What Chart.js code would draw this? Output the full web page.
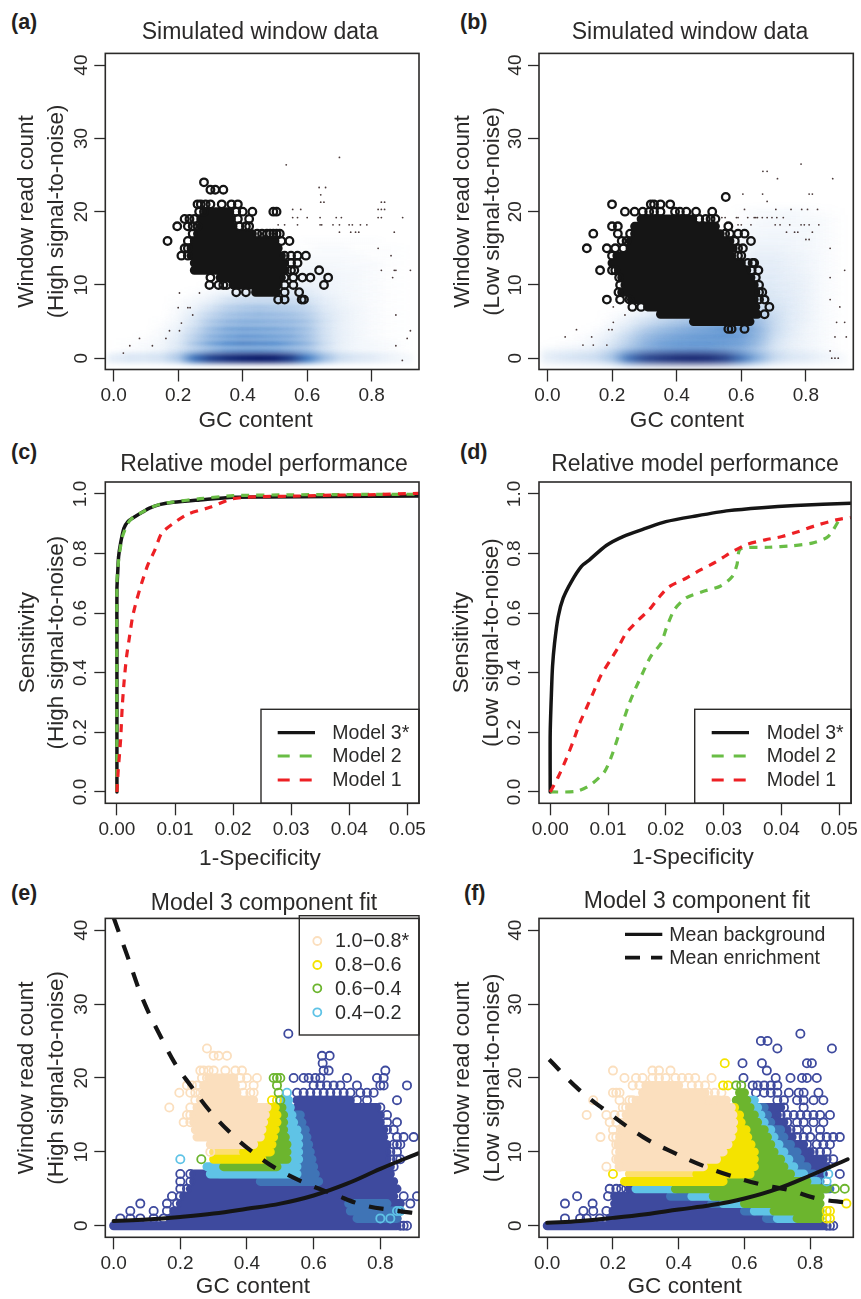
<!DOCTYPE html>
<html>
<head>
<meta charset="utf-8">
<title>Model fit panels</title>
<script src="https://cdn.jsdelivr.net/npm/chart.js@4/dist/chart.umd.min.js"></script>
<style>
  html, body { margin: 0; padding: 0; background: #fff; }
  #page { position: relative; width: 861px; height: 1299px; overflow: hidden; font-family: "Liberation Sans", Arial, sans-serif; color: #2b2a29; }
  canvas { position: absolute; }
  .tag { position: absolute; font-weight: bold; font-size: 21.5px; line-height: 24px; color: #231f20; }
  .head { position: absolute; font-size: 23px; line-height: 28px; white-space: nowrap; transform: translateX(-50%); }
  .xname { position: absolute; font-size: 22.6px; line-height: 28px; white-space: nowrap; transform: translateX(-50%); }
</style>
</head>
<body>
<div id="page">
  <canvas id="panelA" width="430" height="400" style="left:0;top:40px"></canvas>
  <canvas id="panelB" width="431" height="400" style="left:430px;top:40px"></canvas>
  <canvas id="panelC" width="430" height="400" style="left:0;top:470px"></canvas>
  <canvas id="panelD" width="431" height="400" style="left:430px;top:470px"></canvas>
  <canvas id="panelE" width="430" height="394" style="left:0;top:905px"></canvas>
  <canvas id="panelF" width="431" height="394" style="left:430px;top:905px"></canvas>
  <div class="tag" style="left:11px;top:10px">(a)</div>
  <div class="tag" style="left:460px;top:10px">(b)</div>
  <div class="tag" style="left:11px;top:440px">(c)</div>
  <div class="tag" style="left:460px;top:440px">(d)</div>
  <div class="tag" style="left:11px;top:881px">(e)</div>
  <div class="tag" style="left:464px;top:881px">(f)</div>
  <div class="head" style="left:260px;top:17px">Simulated window data</div>
  <div class="head" style="left:690px;top:17px">Simulated window data</div>
  <div class="head" style="left:264px;top:449px">Relative model performance</div>
  <div class="head" style="left:695px;top:449px">Relative model performance</div>
  <div class="head" style="left:264px;top:888px">Model 3 component fit</div>
  <div class="head" style="left:697px;top:886px">Model 3 component fit</div>
  <div class="xname" style="left:255.7px;top:406px">GC content</div>
  <div class="xname" style="left:687px;top:406px">GC content</div>
  <div class="xname" style="left:260px;top:844px">1-Specificity</div>
  <div class="xname" style="left:693px;top:843px">1-Specificity</div>
  <div class="xname" style="left:253px;top:1272px">GC content</div>
  <div class="xname" style="left:684.7px;top:1272px">GC content</div>
</div>
<script>
// tick labels
const gcTicks = [0, 0.2, 0.4, 0.6, 0.8];
const countTicks = [0, 10, 20, 30, 40];
const specificityTicks = [0, 0.01, 0.02, 0.03, 0.04, 0.05];
const sensitivityTicks = [0, 0.2, 0.4, 0.6, 0.8, 1];

// legend names
const modelNames = ['Model 3*', 'Model 2', 'Model 1'];
const probabilityBins = ['1.0\u22120.8*', '0.8\u22120.6', '0.6\u22120.4', '0.4\u22120.2'];
const meanNames = ['Mean background', 'Mean enrichment'];

// smoothed density behind panels a and b, one row per read count
const densityGc = [-0.02, 0.05, 0.1, 0.15, 0.2, 0.25, 0.3, 0.35, 0.4, 0.45, 0.5, 0.55, 0.6, 0.65, 0.7, 0.75, 0.8, 0.85, 0.93];
const densityA = [
  [.06,.10,.10,.12,.22,.60,.82,.92,.98,1,.98,.85,.55,.28,.14,.10,.08,.05,.02],
  [0,.02,.03,.05,.12,.22,.32,.42,.45,.45,.42,.35,.28,.14,.07,.04,.03,.02,0],
  [0,.01,.02,.04,.10,.25,.40,.50,.55,.52,.50,.42,.32,.16,.07,.04,.03,.02,0],
  [0,0,.01,.03,.08,.20,.34,.42,.46,.45,.42,.38,.28,.14,.07,.04,.02,.01,0],
  [0,0,0,.02,.06,.16,.30,.40,.43,.42,.40,.36,.28,.14,.07,.04,.02,.01,0],
  [0,0,0,.01,.04,.12,.24,.32,.36,.36,.34,.32,.26,.14,.07,.04,.02,.01,0],
  [0,0,0,0,.03,.09,.18,.26,.30,.32,.30,.28,.22,.12,.07,.04,.02,.01,0],
  [0,0,0,0,.02,.05,.12,.20,.24,.26,.24,.22,.18,.10,.06,.04,.02,.01,0],
  [0,0,0,0,.01,.03,.06,.12,.15,.16,.16,.16,.13,.08,.05,.03,.02,.01,0],
  [0,0,0,0,0,.01,.03,.05,.07,.08,.09,.10,.09,.06,.04,.03,.02,.01,0],
  [0,0,0,0,0,0,.01,.02,.03,.04,.05,.06,.06,.05,.04,.03,.02,.01,0],
  [0,0,0,0,0,0,0,.01,.02,.02,.03,.04,.05,.05,.04,.03,.02,.01,0],
  [0,0,0,0,0,0,0,0,.01,.02,.02,.03,.04,.04,.03,.03,.02,.01,0],
  [0,0,0,0,0,0,0,0,0,.01,.02,.02,.03,.03,.03,.02,.02,.01,0],
  [0,0,0,0,0,0,0,0,0,0,.01,.01,.02,.02,.02,.02,.01,.01,0],
  [0,0,0,0,0,0,0,0,0,0,0,.01,.01,.02,.02,.01,.01,.01,0],
  [0,0,0,0,0,0,0,0,0,0,0,0,.01,.01,.01,.01,.01,0,0]
];
const densityB = [
  [.06,.10,.12,.14,.24,.62,.84,.92,.98,1,.98,.88,.62,.34,.16,.10,.08,.05,.02],
  [.02,.04,.05,.07,.14,.26,.36,.42,.45,.46,.45,.40,.32,.20,.10,.06,.04,.02,0],
  [0,.01,.02,.04,.10,.20,.34,.44,.48,.50,.50,.48,.44,.30,.12,.06,.04,.02,0],
  [0,0,.01,.03,.07,.16,.28,.36,.42,.46,.48,.50,.46,.32,.14,.07,.04,.02,0],
  [0,0,0,.01,.04,.10,.20,.28,.34,.40,.44,.50,.46,.34,.16,.08,.04,.02,0],
  [0,0,0,0,.02,.06,.12,.18,.24,.28,.32,.36,.36,.30,.16,.08,.05,.02,0],
  [0,0,0,0,.01,.03,.06,.10,.14,.18,.22,.24,.24,.20,.14,.08,.05,.02,0],
  [0,0,0,0,0,.01,.03,.05,.08,.10,.12,.14,.16,.14,.12,.08,.05,.02,0],
  [0,0,0,0,0,0,.01,.02,.04,.06,.08,.10,.12,.12,.10,.08,.05,.02,0],
  [0,0,0,0,0,0,0,.01,.02,.03,.05,.07,.10,.10,.09,.07,.05,.02,0],
  [0,0,0,0,0,0,0,0,.01,.02,.03,.05,.08,.09,.08,.07,.05,.02,0],
  [0,0,0,0,0,0,0,0,0,.01,.02,.04,.07,.08,.08,.06,.05,.02,0],
  [0,0,0,0,0,0,0,0,0,0,.01,.03,.06,.07,.07,.06,.04,.02,0],
  [0,0,0,0,0,0,0,0,0,0,.01,.02,.05,.07,.07,.05,.04,.02,0],
  [0,0,0,0,0,0,0,0,0,0,0,.02,.04,.06,.06,.05,.04,.02,0],
  [0,0,0,0,0,0,0,0,0,0,0,.01,.03,.05,.05,.04,.03,.02,0],
  [0,0,0,0,0,0,0,0,0,0,0,.01,.03,.04,.04,.04,.03,.02,0],
  [0,0,0,0,0,0,0,0,0,0,0,0,.02,.03,.04,.03,.03,.02,0],
  [0,0,0,0,0,0,0,0,0,0,0,0,.02,.03,.03,.03,.03,.02,0],
  [0,0,0,0,0,0,0,0,0,0,0,0,.01,.02,.03,.03,.02,.02,0],
  [0,0,0,0,0,0,0,0,0,0,0,0,.01,.02,.02,.03,.02,.01,0]
];

// [count, gc from, gc to, ...] solid runs of overplotted windows
const packedA = [[9,.44,.505],[10,.37,.51],[11,.33,.52],[12,.25,.53],[13,.25,.53],[14,.24,.52],[15,.24,.51],[16,.25,.50],[17,.26,.43],[18,.27,.37],[19,.27,.365],[20,.285,.36]];
const packedB = [[5,.452,.627],[6,.35,.65],[7,.31,.645],[8,.26,.64],[9,.23,.645],[10,.24,.64],[11,.23,.63],[12,.22,.617],[13,.2,.60],[14,.215,.57],[15,.256,.575],[16,.256,.565],[17,.27,.535],[18,.27,.52],[19,.29,.45]];
// [count, gc, gc, ...] windows still visible one by one
const openA = [[8,.51,.53,.583,.59],[9,.38,.41,.53,.575],[10,.297,.325,.34,.35,.53,.557,.652],[11,.30,.53,.557,.585,.61,.665],[12,.55,.56,.637],[13,.55,.57],[14,.21,.23,.53,.55,.57,.596],[15,.22,.23],[16,.167,.23,.52,.545],[17,.245,.445,.46,.475,.485,.495,.505,.515],[18,.197,.23,.245,.26,.39,.41,.42],[19,.22,.235,.25,.385,.42],[20,.265,.28,.38,.40,.43,.495,.505],[21,.26,.27,.285,.30,.335,.365,.385],[23,.30,.315,.34],[24,.28]];
const openB = [[4,.56,.57,.61],[6,.672],[7,.263,.29,.687],[8,.184,.225,.254,.655,.672],[9,.22,.655,.665],[10,.225,.655],[11,.222,.645],[12,.163,.2,.21,.632,.653],[13,.62,.635,.64],[14,.2,.59,.60],[15,.122,.184,.21,.235,.605,.59],[16,.23,.245,.63,.58],[17,.142,.218,.256,.55,.565,.59,.61],[18,.2,.218,.56],[19,.47,.49,.505,.52],[20,.24,.27,.295,.315,.33,.35,.395,.41,.43,.46,.51],[21,.2,.32,.33,.35,.38],[22,.552]];
// [count, gc, gc, ...] tiny single dots
const dotsA = [[-.3,.895],[.7,.03],[1.7,.05,.12,.875],[2.7,.08,.162,.91],[3.75,.173,.204,.92],[4.8,.21],[5.9,.245,.875],[6.9,.2,.23,.237],[8.9,.204,.266],[11,.865],[12,.83,.87,.875,.92],[14,.86],[15,.82],[17.2,.70,.735,.75,.76,.87],[18.2,.51,.53,.57,.64,.645,.68,.70,.73,.74,.765,.785],[19.2,.555,.57,.60,.64,.69,.706,.82,.83,.896],[20.3,.555,.58,.82,.83,.84],[21.3,.642,.652,.83,.84],[22.3,.642],[23.3,.637,.657],[26.4,.535],[27.4,.70]];
const dotsB = [[0,.88,.89,.90],[1,.875],[1.8,.11,.142,.184],[2.9,.055,.137,.89,.925],[3.9,.09,.19,.2],[4.9,.204,.895,.92],[5.9,.24],[7,.204,.905],[8,.875],[11,.875],[12,.92],[15,.875],[16.2,.80,.81],[17.2,.74,.765,.775,.82],[18.2,.59,.60,.63,.705,.72,.75,.785,.795,.81,.84],[19.2,.54,.55,.585,.59,.62,.64,.645,.65,.665,.68,.695,.71,.73],[20.3,.61,.707,.754,.787,.805,.836],[21.4,.68],[22.4,.605,.666,.81,.82],[24.5,.712,.883],[25.5,.667,.68],[26.5,.785]];

// ROC curves, panel c, [1-specificity, sensitivity]
const rocC3 = [[0,0],[0,.5],[0,.68],[.00012,.73],[.00029,.79],[.00063,.834],[.0012,.885],[.00195,.909],[.0028,.92],[.0045,.94],[.0056,.952],[.0075,.965],[.0097,.972],[.0143,.98],[.02,.989],[.0258,.99],[.0373,.991],[.052,.993]];
const rocC2 = [[0,0],[0,.7],[.0003,.78],[.0006,.82],[.001,.86],[.002,.905],[.003,.925],[.0045,.94],[.0056,.952],[.0075,.966],[.0097,.973],[.0143,.984],[.02,.994],[.03,.997],[.04,.998],[.052,.999]];
const rocC1 = [[0,0],[.00023,.074],[.00063,.174],[.00092,.287],[.00126,.376],[.00166,.454],[.00212,.515],[.0027,.588],[.0034,.644],[.00425,.70],[.0053,.761],[.00654,.812],[.0077,.868],[.0097,.901],[.0123,.933],[.016,.955],[.0195,.982],[.0218,.988],[.0252,.991],[.0315,.993],[.0373,.996],[.043,.997],[.052,1.002]];
// ROC curves, panel d
const rocD3 = [[0,0],[0,.197],[.00023,.342],[.0004,.421],[.00075,.499],[.00138,.588],[.00224,.65],[.00367,.706],[.0054,.757],[.0068,.779],[.0097,.827],[.0126,.857],[.0166,.885],[.02,.907],[.0252,.926],[.0309,.944],[.0366,.954],[.0424,.961],[.052,.969]];
const rocD2 = [[0,0],[.0045,.002],[.0069,.023],[.0094,.068],[.0108,.13],[.0123,.219],[.0137,.298],[.0148,.349],[.016,.399],[.0174,.455],[.0192,.5],[.0201,.55],[.0215,.612],[.0235,.651],[.0263,.672],[.0295,.691],[.0315,.723],[.0323,.762],[.0329,.815],[.0378,.821],[.0418,.826],[.0453,.835],[.0481,.857],[.05,.913]];
const rocD1 = [[0,0],[.0014,.051],[.00281,.113],[.00396,.169],[.0051,.231],[.00625,.281],[.0074,.331],[.00883,.393],[.01026,.438],[.0117,.483],[.0131,.532],[.0151,.574],[.0171,.611],[.0189,.655],[.0206,.689],[.0235,.717],[.026,.745],[.0286,.771],[.0309,.799],[.0338,.829],[.0372,.846],[.0401,.857],[.043,.874],[.0458,.893],[.0495,.913],[.052,.921]];

// mean curves, [gc, count]
const backgroundE = [[0,.63],[.1,.85],[.2,1.2],[.3,1.65],[.4,2.3],[.5,3],[.6,4.1],[.7,5.7],[.8,7.7],[.913,9.8]];
const enrichmentE = [[0,41.7],[.039,36.8],[.089,30.5],[.149,24.9],[.189,21.6],[.229,19.1],[.289,15.5],[.359,12.2],[.419,9.9],[.489,7.7],[.589,5.5],[.659,4.3],[.749,2.8],[.839,2.1],[.913,1.66]];
const backgroundF = [[0,.4],[.1,.65],[.2,1.07],[.3,1.57],[.4,2.2],[.5,2.8],[.6,3.7],[.7,5],[.8,6.8],[.914,9]];
const enrichmentF = [[.006,22.5],[.09,18.7],[.165,16],[.292,12],[.394,9.7],[.475,8.1],[.556,6.8],[.658,5.5],[.739,4.8],[.82,3.7],[.916,3.1]];

// panel e, packed runs by posterior class
const navyE = [[0,0,.85],[1,.17,.85],[2,.18,.86],[3,.2,.86],[4,.21,.84],[5,.23,.85],[6,.24,.84],[7,.24,.83],[8,.55,.83],[9,.55,.82],[10,.55,.82],[11,.55,.82],[12,.55,.81],[13,.55,.81],[14,.55,.80],[15,.55,.80],[16,.55,.79],[17,.55,.71]];
const steelE = [[1,.73,.85],[2,.71,.85],[3,.705,.82],[6,.44,.615],[7,.32,.605],[8,.55,.60],[9,.55,.595],[10,.55,.59],[11,.55,.585],[12,.55,.58],[13,.55,.575],[14,.54,.565],[15,.53,.56]];
const skyE = [[7,.29,.55],[8,.28,.55],[9,.52,.555],[10,.52,.555],[11,.52,.555],[12,.52,.555],[13,.51,.55],[14,.51,.54],[15,.51,.535],[16,.51,.53],[17,.51,.525]];
const greenE = [[8,.33,.49],[9,.44,.52],[10,.47,.52],[11,.475,.52],[12,.48,.515],[13,.485,.51],[14,.49,.51],[15,.49,.51],[16,.49,.505]];
const yellowE = [[9,.30,.445],[10,.39,.47],[11,.42,.475],[12,.44,.48],[13,.445,.485],[14,.45,.49],[15,.455,.49],[16,.46,.485]];
const goldE = [[10,.30,.39]];
const peachE = [[11,.29,.42],[12,.25,.44],[13,.245,.445],[14,.24,.45],[15,.24,.455],[16,.25,.46],[17,.26,.42],[18,.27,.37],[19,.27,.365],[20,.285,.36]];
const peachOpenE = [[10,.29],[14,.21,.23],[15,.22,.23],[16,.167,.23],[17,.245],[18,.197,.23,.245,.26,.39,.41,.42],[19,.22,.235,.25,.385,.42],[20,.265,.28,.38,.40,.43],[21,.26,.27,.285,.30,.335,.365,.385],[23,.30,.315,.34],[24,.28]];
const yellowOpenE = [[17,.475,.49]];
const greenOpenE = [[9,.263],[17,.50],[18,.495],[19,.49],[20,.48,.49,.50]];
const skyOpenE = [[9,.2],[18,.52],[1,.80,.83],[2,.85,.86]];
const navyOpenE = [[0,.86,.87,.88],[1,.02,.05,.08,.12,.15],[2,.05,.12,.16],[3,.08,.16,.19],[4,.175,.2],[5,.2,.22],[6,.2,.23],[7,.2,.23],[8,.84],[9,.83,.85,.86],[10,.83,.85],[11,.84,.85,.86],[12,.85,.87,.90],[13,.82,.84],[14,.82,.85],[15,.82],[16,.80],[18,.55,.57,.59,.61,.63,.65,.67,.69,.71,.74,.76,.78],[19,.60,.62,.64,.66,.68,.73,.80,.81],[20,.54,.57,.585,.605,.62,.70,.79,.81],[17,.73,.76,.85],[19,.88],[21,.63,.645,.815],[22,.627],[23,.625,.648],[26,.524],[4,.87,.91],[3,.89]];

// panel f, packed runs by posterior class
const navyF = [[0,0,.84],[1,.19,.667],[2,.2,.60],[3,.205,.505],[4,.205,.375],[5,.25,.30],[7,.79,.84],[8,.78,.85],[9,.77,.84],[10,.76,.80],[11,.74,.78],[12,.72,.745],[13,.71,.73],[14,.68,.72],[15,.67,.70],[16,.66,.71]];
const steelF = [[1,.667,.70],[2,.60,.63],[3,.50,.535],[4,.375,.445],[5,.84,.86],[6,.80,.83],[7,.78,.81],[8,.75,.79],[9,.735,.77],[10,.72,.76],[11,.705,.74],[12,.69,.72],[13,.68,.71],[14,.66,.68],[15,.65,.67],[16,.64,.66]];
const skyF = [[1,.70,.76],[2,.63,.69],[3,.535,.60],[4,.44,.505],[5,.27,.39],[6,.79,.82],[7,.74,.78],[8,.72,.75],[9,.71,.735],[10,.69,.72],[11,.68,.705],[12,.67,.69],[13,.66,.68],[14,.64,.66],[15,.63,.65],[16,.617,.64],[17,.607,.63]];
const greenF = [[1,.76,.83],[2,.69,.83],[3,.60,.83],[4,.505,.83],[5,.39,.85],[6,.535,.79],[7,.62,.74],[8,.63,.72],[9,.63,.71],[10,.63,.69],[11,.62,.68],[12,.61,.67],[13,.605,.66],[14,.59,.64],[15,.585,.63],[16,.57,.617],[17,.575,.607],[18,.585,.60]];
const yellowF = [[6,.235,.535],[7,.455,.617],[8,.475,.63],[9,.515,.63],[10,.535,.63],[11,.55,.62],[12,.56,.61],[13,.565,.605],[14,.567,.59],[15,.565,.585],[16,.56,.57]];
const goldF = [[7,.25,.455]];
const peachF = [[8,.22,.475],[9,.215,.515],[10,.22,.535],[11,.215,.55],[12,.22,.56],[13,.225,.565],[14,.24,.567],[15,.24,.565],[16,.25,.56],[17,.27,.545],[18,.29,.48],[19,.30,.40]];
const peachOpenF = [[8,.18,.22],[9,.21],[10,.21],[11,.21],[12,.162,.2,.21],[13,.2],[14,.19,.21],[15,.12,.18,.205,.225],[16,.23,.24],[17,.14,.22,.25,.26,.49,.51],[18,.2,.21,.22,.49,.51,.53],[19,.26,.28,.44,.46,.48],[20,.235,.27,.29,.32,.34,.36,.39,.41,.43,.45,.50],[21,.2,.32,.34,.375]];
const yellowOpenF = [[7,.2],[19,.535,.55],[22,.54],[1,.85,.86],[2,.85,.86],[3,.91]];
const greenOpenF = [[5,.875,.905],[19,.575,.59]];
const skyOpenF = [[6,.85],[7,.855]];
const navyOpenF = [[0,.85,.86,.87],[1,.054,.1,.12,.16],[2,.11,.14,.18],[3,.054,.138],[4,.091,.185],[5,.19,.21,.225,.24],[7,.89],[9,.85,.87],[10,.81,.83,.85],[11,.79,.82,.84,.86],[12,.76,.78,.80,.83,.85,.87,.89],[13,.74,.76,.79,.83],[14,.73,.76,.78,.81,.84],[15,.71,.73,.75,.77,.79,.81,.83,.86],[16,.72,.78],[17,.70,.72,.76,.78,.81,.84],[18,.635,.66,.68,.70,.735,.765,.78,.825],[19,.625,.64,.66,.68,.70],[20,.597,.695,.74,.775,.79,.82],[21,.668],[22,.594,.653,.79,.805],[24,.70,.866],[25,.65,.67],[26,.77]];

const inkColor = '#2b2a29';
const navy = '#3e4a9e';
const steel = '#3f74b6';
const sky = '#5fc3e6';
const green = '#6cb52e';
const yellow = '#f4e300';
const gold = '#fddf6e';
const peach = '#fbdfbe';
const red = '#ed2024';
const leaf = '#69bd45';
const black = '#151515';

function blueFor(v) {
  if (v <= 0.5) return 'rgba(45,115,195,' + (v * 1.7).toFixed(3) + ')';
  const t = (v - 0.5) / 0.5;
  const r = Math.round(45 - 37 * t), g = Math.round(115 - 90 * t), b = Math.round(195 - 90 * t);
  return 'rgba(' + r + ',' + g + ',' + b + ',' + (0.85 + 0.15 * t).toFixed(3) + ')';
}

// one blurred line per read count, with a horizontal gradient built on the x scale
function densityLayers(rows, blur, width) {
  const layers = [];
  for (let i = rows.length - 1; i >= 0; i--) {
    const row = rows[i];
    layers.push({
      showLine: true, pointRadius: 0, borderWidth: i === 0 ? width + 3 : width, blur: blur,
      data: densityGc.map(x => ({ x: x, y: i })),
      borderColor: c => {
        const sx = c.chart.scales.x;
        const first = densityGc[0], last = densityGc[densityGc.length - 1];
        const x0 = sx ? sx.getPixelForValue(first) : NaN;
        const x1 = sx ? sx.getPixelForValue(last) : NaN;
        // scale is not laid out on the first pass
        if (!Number.isFinite(x0) || !Number.isFinite(x1)) return 'rgba(0,0,0,0)';
        const grad = c.chart.ctx.createLinearGradient(x0, 0, x1, 0);
        densityGc.forEach((x, k) => grad.addColorStop((x - first) / (last - first), blueFor(row[k])));
        return grad;
      }
    });
  }
  return layers;
}

function runs(rows, color, width) {
  const pts = [];
  rows.forEach(r => {
    for (let i = 1; i < r.length; i += 2) {
      pts.push({ x: r[i], y: r[0] }, { x: r[i + 1], y: r[0] }, { x: r[i + 1], y: null });
    }
  });
  return { showLine: true, pointRadius: 0, data: pts, borderColor: color, borderWidth: width || 9, borderCapStyle: 'round' };
}

function marks(rows, color, radius, border) {
  const pts = [];
  rows.forEach(r => r.slice(1).forEach(x => pts.push({ x: x, y: r[0] })));
  return { data: pts, pointRadius: radius, pointBorderWidth: border, pointBorderColor: color, pointBackgroundColor: 'rgba(0,0,0,0)', pointHitRadius: 0 };
}

function dots(rows) {
  const pts = [];
  rows.forEach(r => r.slice(1).forEach(x => pts.push({ x: x, y: r[0] })));
  return { data: pts, pointRadius: 0.9, pointBorderWidth: 0, pointBackgroundColor: '#4a3a3a' };
}

function curve(points, color, width, dash, tension) {
  return {
    showLine: true, pointRadius: 0, data: points.map(p => ({ x: p[0], y: p[1] })),
    borderColor: color, borderWidth: width, borderDash: dash || [], tension: tension || 0.25,
    borderCapStyle: dash ? 'butt' : 'round', borderJoinStyle: 'round'
  };
}

// blur + frame + legend
const panelPlugin = {
  id: 'panelPlugin',
  beforeDatasetDraw(chart, args) {
    const b = chart.data.datasets[args.index].blur;
    if (b) chart.ctx.filter = 'blur(' + b + 'px)';
  },
  afterDatasetDraw(chart) {
    chart.ctx.filter = 'none';
  },
  afterDatasetsDraw(chart) {
    const ctx = chart.ctx, a = chart.chartArea, lg = chart.options.plugins.panelPlugin.legend;
    ctx.save();
    if (lg) {
      if (lg.box) {
        ctx.fillStyle = '#fff';
        ctx.strokeStyle = inkColor;
        ctx.lineWidth = 1.4;
        ctx.fillRect(lg.box[0], lg.box[1], a.right - lg.box[0], lg.box[2] - lg.box[1]);
        ctx.strokeRect(lg.box[0], lg.box[1], a.right - lg.box[0], lg.box[2] - lg.box[1]);
      }
      ctx.font = lg.font;
      ctx.textBaseline = 'middle';
      ctx.textAlign = 'left';
      lg.names.forEach((name, i) => {
        const y = lg.rows[i], st = lg.styles[i];
        ctx.strokeStyle = st.color;
        if (st.circle) {
          ctx.lineWidth = 1.8;
          ctx.beginPath();
          ctx.arc(lg.mark[0], y, 4, 0, Math.PI * 2);
          ctx.stroke();
        } else {
          ctx.lineWidth = st.width;
          ctx.setLineDash(st.dash || []);
          ctx.beginPath();
          ctx.moveTo(lg.mark[0], y);
          ctx.lineTo(lg.mark[1], y);
          ctx.stroke();
          ctx.setLineDash([]);
        }
        ctx.fillStyle = inkColor;
        ctx.fillText(name, lg.text, y + 1);
      });
    }
    ctx.strokeStyle = inkColor;
    ctx.lineWidth = 1.6;
    ctx.strokeRect(a.left, a.top, a.right - a.left, a.bottom - a.top);
    ctx.restore();
  }
};

function makePanel(id, cfg) {
  const tickFont = { family: '"Liberation Sans", Arial, sans-serif', size: 19 };
  const titleFont = { family: '"Liberation Sans", Arial, sans-serif', size: 22.5 };
  return new Chart(document.getElementById(id).getContext('2d'), {
    type: 'scatter',
    // chart.js paints dataset 0 last, the lists below are written bottom layer first
    data: { datasets: cfg.datasets.slice().reverse() },
    plugins: [panelPlugin],
    options: {
      responsive: false,
      animation: false,
      events: [],
      layout: { padding: cfg.padding },
      plugins: { legend: { display: false }, tooltip: { enabled: false }, panelPlugin: { legend: cfg.legend } },
      scales: {
        x: {
          type: 'linear', min: cfg.xRange[0], max: cfg.xRange[1],
          afterBuildTicks: s => { s.ticks = cfg.xTicks.map(v => ({ value: v })); },
          afterFit: s => { s.height = cfg.axisHeight; },
          border: { display: false },
          grid: { drawOnChartArea: false, tickLength: 12, tickColor: inkColor, tickWidth: 1.3 },
          ticks: { autoSkip: false, maxRotation: 0, minRotation: 0, padding: 3, color: inkColor, font: tickFont, callback: v => v.toFixed(cfg.xDigits) }
        },
        y: {
          type: 'linear', min: cfg.yRange[0], max: cfg.yRange[1],
          afterBuildTicks: s => { s.ticks = cfg.yTicks.map(v => ({ value: v })); },
          afterFit: s => { s.width = cfg.axisWidth; },
          border: { display: false },
          grid: { drawOnChartArea: false, tickLength: 11, tickColor: inkColor, tickWidth: 1.3 },
          ticks: { autoSkip: false, minRotation: 90, maxRotation: 90, crossAlign: 'center', padding: cfg.yTickPad, color: inkColor, font: tickFont, callback: v => v.toFixed(cfg.yDigits) },
          title: { display: true, text: cfg.yTitle, color: inkColor, font: Object.assign({ lineHeight: cfg.yTitleLine }, titleFont), padding: { top: cfg.yTitleTop, bottom: 0 } }
        }
      }
    }
  });
}

const GC_RANGE_TOP = [-0.026, 0.9467];
const COUNT_RANGE = [-1.54, 41.6];

makePanel('panelA', {
  padding: { left: 0, right: 11, top: 8, bottom: 0 }, axisWidth: 105.3, axisHeight: 70.5,
  xRange: GC_RANGE_TOP, yRange: COUNT_RANGE, xTicks: gcTicks, yTicks: countTicks, xDigits: 1, yDigits: 0,
  yTitle: ['Window read count', '(High signal-to-noise)'], yTitleLine: 1.36, yTitleTop: 11, yTickPad: 2,
  datasets: densityLayers(densityA, 2.6, 7).concat([dots(dotsA), runs(packedA, black), marks(openA, black, 3.8, 2.3)])
});

makePanel('panelB', {
  padding: { left: 0, right: 7.7, top: 8, bottom: 0 }, axisWidth: 109, axisHeight: 70.5,
  xRange: GC_RANGE_TOP, yRange: COUNT_RANGE, xTicks: gcTicks, yTicks: countTicks, xDigits: 1, yDigits: 0,
  yTitle: ['Window read count', '(Low signal-to-noise)'], yTitleLine: 1.33, yTitleTop: 18, yTickPad: 2,
  datasets: densityLayers(densityB, 3.5, 8).concat([dots(dotsB), runs(packedB, black), marks(openB, black, 3.8, 2.3)])
});

const rocLegendStyles = [{ color: black, width: 3.2 }, { color: leaf, width: 3.2, dash: [12, 10] }, { color: red, width: 3.2, dash: [12, 10] }];

makePanel('panelC', {
  padding: { left: 0, right: 11, top: 12, bottom: 0 }, axisWidth: 105.3, axisHeight: 66.7,
  xRange: [-0.002, 0.052], yRange: [-0.038, 1.04], xTicks: specificityTicks, yTicks: sensitivityTicks, xDigits: 2, yDigits: 1,
  yTitle: ['Sensitivity', '(High signal-to-noise)'], yTitleLine: 1.29, yTitleTop: 13, yTickPad: 0,
  datasets: [curve(rocC3, black, 3.5), curve(rocC2, leaf, 3.2, [8, 7]), curve(rocC1, red, 3.2, [8, 7])],
  legend: { box: [261, 239.3, 333.3], names: modelNames, rows: [262.7, 286, 310], mark: [277.7, 315], text: 332.3, font: '19.5px "Liberation Sans", Arial, sans-serif', styles: rocLegendStyles }
});

makePanel('panelD', {
  padding: { left: 0, right: 7.7, top: 12, bottom: 0 }, axisWidth: 109, axisHeight: 66.7,
  xRange: [-0.00194, 0.05205], yRange: [-0.038, 1.04], xTicks: specificityTicks, yTicks: sensitivityTicks, xDigits: 2, yDigits: 1,
  yTitle: ['Sensitivity', '(Low signal-to-noise)'], yTitleLine: 1.36, yTitleTop: 16, yTickPad: 0,
  datasets: [curve(rocD3, black, 3.5), curve(rocD2, leaf, 3.2, [8, 7]), curve(rocD1, red, 3.2, [8, 7])],
  legend: { box: [264.7, 239.3, 333.3], names: modelNames, rows: [262.7, 286, 310], mark: [281.7, 319], text: 336.7, font: '19.5px "Liberation Sans", Arial, sans-serif', styles: rocLegendStyles }
});

makePanel('panelE', {
  padding: { left: 0, right: 11, top: 10.7, bottom: 0 }, axisWidth: 105.3, axisHeight: 61.7,
  xRange: [-0.025, 0.916], yRange: [-1.56, 41.6], xTicks: gcTicks, yTicks: countTicks, xDigits: 1, yDigits: 0,
  yTitle: ['Window read count', '(High signal-to-noise)'], yTitleLine: 1.36, yTitleTop: 11, yTickPad: 2,
  datasets: [runs(navyE, navy), marks(navyOpenE, navy, 4.1, 1.8), runs(steelE, steel), runs(skyE, sky), runs(greenE, green), runs(goldE, gold), runs(yellowE, yellow), runs(peachE, peach),
    marks(peachOpenE, peach, 4.1, 1.8), marks(yellowOpenE, yellow, 4.1, 1.8), marks(greenOpenE, green, 4.1, 1.8), marks(skyOpenE, sky, 4.1, 1.8),
    curve(backgroundE, black, 4, null, 0.4), curve(enrichmentE, black, 4.2, [15, 14], 0.4)],
  legend: { box: [299.3, 10.7, 130], names: probabilityBins, rows: [36, 60, 83.3, 107.3], mark: [317.3], text: 335, font: '19.8px "Liberation Sans", Arial, sans-serif',
    styles: [{ color: peach, circle: true }, { color: yellow, circle: true }, { color: green, circle: true }, { color: sky, circle: true }] }
});

makePanel('panelF', {
  padding: { left: 0, right: 7.7, top: 10.7, bottom: 0 }, axisWidth: 109, axisHeight: 61.7,
  xRange: [-0.025, 0.931], yRange: [-1.56, 41.6], xTicks: gcTicks, yTicks: countTicks, xDigits: 1, yDigits: 0,
  yTitle: ['Window read count', '(Low signal-to-noise)'], yTitleLine: 1.36, yTitleTop: 17, yTickPad: 2,
  datasets: [runs(navyF, navy), marks(navyOpenF, navy, 4.1, 1.8), runs(steelF, steel), runs(skyF, sky), runs(greenF, green), runs(goldF, gold), runs(yellowF, yellow), runs(peachF, peach),
    marks(peachOpenF, peach, 4.1, 1.8), marks(yellowOpenF, yellow, 4.1, 1.8), marks(greenOpenF, green, 4.1, 1.8), marks(skyOpenF, sky, 4.1, 1.8),
    curve(backgroundF, black, 4, null, 0.4), curve(enrichmentF, black, 4.2, [15, 14], 0.4)],
  legend: { names: meanNames, rows: [29.3, 52.7], mark: [195, 232.3], text: 239.3, font: '19.5px "Liberation Sans", Arial, sans-serif',
    styles: [{ color: black, width: 3.2 }, { color: black, width: 3.8, dash: [15, 11] }] }
});
</script>
</body>
</html>
